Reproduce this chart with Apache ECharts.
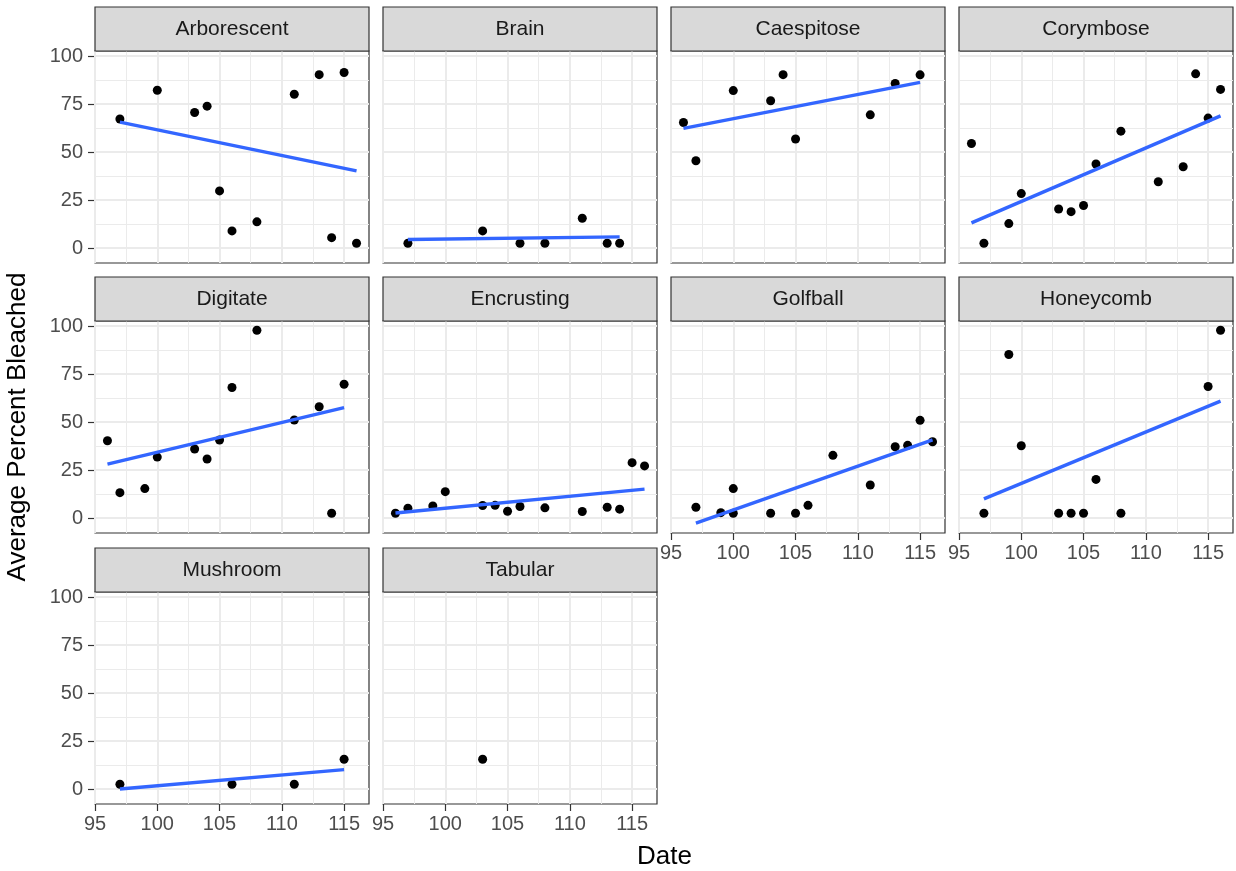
<!DOCTYPE html>
<html><head><meta charset="utf-8">
<script src="https://cdn.jsdelivr.net/npm/echarts@6/dist/echarts.min.js"></script>
<style>html,body{margin:0;padding:0;background:#fff}#c{width:1236px;height:871px}</style>
</head><body><div id="c"></div>
<script>
const categories = ['Arborescent','Brain','Caespitose','Corymbose','Digitate','Encrusting','Golfball','Honeycomb','Mushroom','Tabular'];

const arborescentDate = [97,100,103,104,105,106,108,111,113,114,115,116];
const arborescentPct  = [67.2,82.2,70.6,73.9,29.8,9.0,13.7,80.1,90.3,5.5,91.4,2.6];
const brainDate = [97,103,106,108,111,113,114];
const brainPct  = [2.6,9.0,2.6,2.6,15.6,2.6,2.6];
const caespitoseDate = [96,97,100,103,104,105,111,113,115];
const caespitosePct  = [65.4,45.5,82.0,76.7,90.3,56.8,69.4,85.7,90.2];
const corymboseDate = [96,97,99,100,103,104,105,106,108,111,113,114,115,116];
const corymbosePct  = [54.5,2.6,12.8,28.4,20.4,19.0,22.2,43.8,60.9,34.6,42.4,90.7,67.7,82.6];
const digitateDate = [96,97,99,100,103,104,105,106,108,111,113,114,115];
const digitatePct  = [40.3,13.3,15.4,31.8,36.0,30.8,40.7,68.0,97.8,51.1,58.0,2.6,69.7];
const encrustingDate = [96,97,99,100,103,104,105,106,108,111,113,114,115,116];
const encrustingPct  = [2.6,5.2,6.4,13.8,6.6,6.7,3.6,6.1,5.4,3.5,5.7,4.7,28.9,27.2];
const golfballDate = [97,99,100,100,103,105,106,108,111,113,114,115,116];
const golfballPct  = [5.7,2.9,2.6,15.4,2.6,2.6,6.7,32.7,17.3,37.2,37.9,50.9,39.8];
const honeycombDate = [97,99,100,103,104,105,106,108,115,116];
const honeycombPct  = [2.6,85.2,37.7,2.6,2.6,2.6,20.2,2.6,68.5,97.8];
const mushroomDate = [97,106,111,115];
const mushroomPct  = [2.6,2.6,2.6,15.6];
const tabularDate = [103];
const tabularPct  = [15.6];

const panelDates = [arborescentDate,brainDate,caespitoseDate,corymboseDate,digitateDate,encrustingDate,golfballDate,honeycombDate,mushroomDate,tabularDate];
const panelPcts  = [arborescentPct,brainPct,caespitosePct,corymbosePct,digitatePct,encrustingPct,golfballPct,honeycombPct,mushroomPct,tabularPct];

const xTicks = [95,100,105,110,115];
const xMinor = [97.5,102.5,107.5,112.5];
const yTicks = [0,25,50,75,100];
const yMinor = [12.5,37.5,62.5,87.5];
const xAxisTitle = 'Date';
const yAxisTitle = 'Average Percent Bleached';

// layout
const X_MIN = 95, X_MAX = 117, Y_MIN = -7.7, Y_MAX = 102.6;
const colLeft = [95, 383, 671, 959], panelW = 274;
const rowTop = [51, 321, 592], panelH = 212, stripH = 44;
const nCols = 4;
const FONT = '"Liberation Sans", Arial, Helvetica, sans-serif';

function lm(xs, ys) {
  const n = xs.length;
  const mx = xs.reduce((a,b)=>a+b,0)/n, my = ys.reduce((a,b)=>a+b,0)/n;
  let sxy = 0, sxx = 0;
  for (let i=0;i<n;i++){ sxy += (xs[i]-mx)*(ys[i]-my); sxx += (xs[i]-mx)*(xs[i]-mx); }
  const b = sxy/sxx;
  return {a: my - b*mx, b: b};
}

const grids = [], xAxes = [], yAxes = [], series = [], graphics = [];
categories.forEach((name, i) => {
  const col = i % nCols, row = Math.floor(i / nCols);
  const left = colLeft[col], top = rowTop[row];
  const showX = (i + nCols) >= categories.length;
  const showY = col === 0;
  grids.push({left: left, top: top, width: panelW, height: panelH, show: true,
    backgroundColor: '#FFFFFF', borderColor: '#333333', borderWidth: 1.2, containLabel: false});
  xAxes.push({type: 'value', gridIndex: i, min: X_MIN, max: X_MAX, position: 'bottom',
    axisLine: {show: false, onZero: false}, splitLine: {show: false},
    axisTick: {show: showX, customValues: xTicks, length: 7, lineStyle: {color: '#333333', width: 1.2}},
    axisLabel: {show: showX, customValues: xTicks, color: '#4D4D4D', fontSize: 20, fontFamily: FONT, margin: 10, hideOverlap: false}});
  yAxes.push({type: 'value', gridIndex: i, min: Y_MIN, max: Y_MAX, position: 'left',
    axisLine: {show: false, onZero: false}, splitLine: {show: false},
    axisTick: {show: showY, customValues: yTicks, length: 7, lineStyle: {color: '#333333', width: 1.2}},
    axisLabel: {show: showY, customValues: yTicks, color: '#4D4D4D', fontSize: 20, fontFamily: FONT, margin: 12, hideOverlap: false}});

  const gl = [];
  yMinor.forEach(v => gl.push({yAxis: v, lineStyle: {color: '#EBEBEB', width: 1, type: 'solid'}}));
  xMinor.forEach(v => gl.push({xAxis: v, lineStyle: {color: '#EBEBEB', width: 1, type: 'solid'}}));
  yTicks.forEach(v => gl.push({yAxis: v, lineStyle: {color: '#EBEBEB', width: 2, type: 'solid'}}));
  xTicks.forEach(v => gl.push({xAxis: v, lineStyle: {color: '#EBEBEB', width: 2, type: 'solid'}}));
  series.push({type: 'line', xAxisIndex: i, yAxisIndex: i, data: [], z: 1, silent: true,
    markLine: {silent: true, z: 1, symbol: ['none','none'], label: {show: false}, animation: false,
      emphasis: {disabled: true}, data: gl}});

  const xs = panelDates[i], ys = panelPcts[i];
  series.push({type: 'scatter', xAxisIndex: i, yAxisIndex: i, z: 3, symbolSize: 9,
    itemStyle: {color: '#000000', opacity: 1}, emphasis: {disabled: true},
    data: xs.map((x, k) => [x, ys[k]])});
  if (xs.length > 1) {
    const f = lm(xs, ys);
    const x0 = Math.min(...xs), x1 = Math.max(...xs);
    series.push({type: 'line', xAxisIndex: i, yAxisIndex: i, z: 4, showSymbol: false, symbol: 'none',
      lineStyle: {color: '#3366FF', width: 3.4}, emphasis: {disabled: true},
      data: [[x0, f.a + f.b*x0], [x1, f.a + f.b*x1]]});
  }

  graphics.push({type: 'rect', shape: {x: left, y: top - stripH, width: panelW, height: stripH},
    style: {fill: '#D9D9D9', stroke: '#333333', lineWidth: 1.2}, z: 10});
  graphics.push({type: 'text', x: left + panelW/2, y: top - stripH/2,
    style: {text: name, fill: '#1A1A1A', fontSize: 21, fontFamily: FONT, align: 'center', verticalAlign: 'middle'}, z: 11});
});

graphics.push({type: 'text', x: 664.5, y: 857,
  style: {text: xAxisTitle, fill: '#000000', fontSize: 26, fontFamily: FONT, align: 'center', verticalAlign: 'middle'}});
graphics.push({type: 'text', x: 18, y: 427, rotation: Math.PI/2,
  style: {text: yAxisTitle, fill: '#000000', fontSize: 26, fontFamily: FONT, align: 'center', verticalAlign: 'middle'}});

const chart = echarts.init(document.getElementById('c'), null, {renderer: 'canvas'});
chart.setOption({
  animation: false,
  backgroundColor: '#FFFFFF',
  textStyle: {fontFamily: FONT},
  grid: grids, xAxis: xAxes, yAxis: yAxes, series: series, graphic: graphics
});
</script></body></html>
